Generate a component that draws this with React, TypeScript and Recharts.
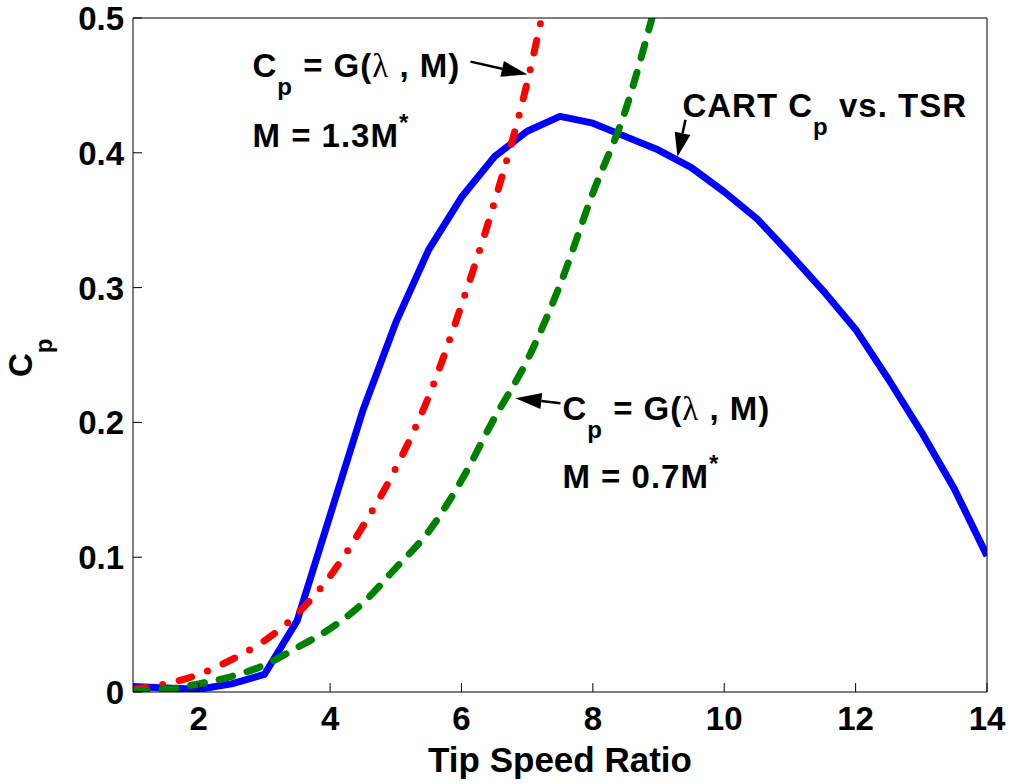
import React from 'react'
import { LineChart, Line, XAxis, YAxis, ReferenceDot, Label } from 'recharts'

// CART measured Cp vs tip speed ratio (piecewise linear)
const tsrCart = [1, 1.5, 2, 2.5, 3, 3.5, 4, 4.5, 5, 5.5, 6, 6.5, 7, 7.5, 8, 8.5, 9, 9.5, 10, 10.5, 11, 11.5, 12, 12.5, 13, 13.5, 14]
const cpCart = [0.004, 0.003, 0.002, 0.006, 0.013, 0.053, 0.131, 0.209, 0.274, 0.328, 0.367, 0.397, 0.416, 0.427, 0.422, 0.412, 0.402, 0.389, 0.371, 0.351, 0.325, 0.298, 0.269, 0.232, 0.193, 0.151, 0.101]

// G(lambda, M) with M = 1.3 M*
const tsrHigh = [1, 1.5, 2, 2.5, 3, 3.5, 4, 4.5, 5, 5.5, 6, 6.5, 7, 7.22]
const cpHigh = [0.002, 0.006, 0.013, 0.024, 0.038, 0.058, 0.086, 0.123, 0.166, 0.219, 0.287, 0.363, 0.452, 0.5]

// G(lambda, M) with M = 0.7 M*
const tsrLow = [1, 1.5, 2, 2.5, 3, 3.5, 4, 4.5, 5, 5.5, 6, 6.5, 7, 7.5, 8, 8.5, 8.9]
const cpLow = [0.001, 0.002, 0.006, 0.0115, 0.02, 0.033, 0.047, 0.066, 0.092, 0.119, 0.157, 0.203, 0.246, 0.302, 0.37, 0.432, 0.5]

const xTicks = [2, 4, 6, 8, 10, 12, 14]
const yTicks = [0, 0.1, 0.2, 0.3, 0.4, 0.5]

// where the annotation arrows point (tsr, cp)
const noteHigh = [7.005, 0.458]
const noteLow = [6.822, 0.218]
const noteCart = [9.288, 0.397]

const toRows = (xs: number[], ys: number[]) => xs.map((x, i) => ({ x, y: ys[i] }))
const cartData = toRows(tsrCart, cpCart)
const highData = toRows(tsrHigh, cpHigh)
const lowData = toRows(tsrLow, cpLow)

const FONT = '"Liberation Sans", Arial, Helvetica, sans-serif'
const textStyle: React.CSSProperties = { fontFamily: FONT, fontWeight: 'bold', fontSize: 33, whiteSpace: 'pre' }
const noteStyle: React.CSSProperties = { ...textStyle, letterSpacing: 1 }

function BottomTick({ x, y, payload }: any) {
    return (
        <g>
            <line x1={x} y1={y} x2={x} y2={y - 9} stroke="#000" strokeWidth={1} />
            <text x={x} y={y + 38} textAnchor="middle" style={textStyle} fill="#000">{payload.value}</text>
        </g>
    )
}

function LeftTick({ x, y, payload }: any) {
    return (
        <g>
            <line x1={x} y1={y} x2={x + 9} y2={y} stroke="#000" strokeWidth={1} />
            <text x={x - 9} y={y + 12} textAnchor="end" style={textStyle} fill="#000">{String(payload.value)}</text>
        </g>
    )
}

function TopTick({ x, y }: any) {
    return <line x1={x} y1={y} x2={x} y2={y + 9} stroke="#000" strokeWidth={1} />
}

function RightTick({ x, y }: any) {
    return <line x1={x} y1={y} x2={x - 9} y2={y} stroke="#000" strokeWidth={1} />
}

function Arrow({ x1, y1, x2, y2, head = 24, half = 8 }: any) {
    const len = Math.hypot(x2 - x1, y2 - y1)
    const ux = (x2 - x1) / len
    const uy = (y2 - y1) / len
    const bx = x2 - ux * head
    const by = y2 - uy * head
    return (
        <g>
            <line x1={x1} y1={y1} x2={bx} y2={by} stroke="#000" strokeWidth={2.5} />
            <polygon points={`${x2},${y2} ${bx - uy * half},${by + ux * half} ${bx + uy * half},${by - ux * half}`} fill="#000" />
        </g>
    )
}

function GText({ x, y }: any) {
    return (
        <text x={x} y={y} style={noteStyle} fill="#000">
            C<tspan fontSize={24} dy={18}>p</tspan>
            <tspan dy={-18}> = G(</tspan>
            <tspan style={{ fontFamily: '"Liberation Serif", serif', fontWeight: 'normal' }}>λ</tspan>
            <tspan> , M)</tspan>
        </text>
    )
}

function MText({ x, y, value }: any) {
    return (
        <text x={x} y={y} style={noteStyle} fill="#000">
            {`M = ${value}M`}<tspan fontSize={24} dy={-16}>*</tspan>
        </text>
    )
}

function HighNote({ cx, cy }: any) {
    return (
        <g>
            <Arrow x1={cx - 57} y1={cy - 13} x2={cx} y2={cy} head={26} half={8} />
            <GText x={cx - 275} y={cy + 2} />
            <MText x={cx - 275} y={cy + 72} value="1.3" />
        </g>
    )
}

function LowNote({ cx, cy }: any) {
    return (
        <g>
            <Arrow x1={cx + 45} y1={cy + 5} x2={cx} y2={cy} head={26} half={8} />
            <GText x={cx + 47} y={cy + 22} />
            <MText x={cx + 47} y={cy + 90} value="0.7" />
        </g>
    )
}

function CartNote({ cx, cy }: any) {
    return (
        <g>
            <Arrow x1={cx + 8} y1={cy - 37} x2={cx} y2={cy} head={24} half={8} />
            <text x={cx + 5} y={cy - 40} style={noteStyle} fill="#000">
                CART C<tspan fontSize={24} dy={18}>p</tspan>
                <tspan dy={-18}> vs. TSR</tspan>
            </text>
        </g>
    )
}

export default function App() {
    return (
        <div style={{ position: 'absolute', left: 0, top: 0, width: 1009, height: 784, background: '#fff' }}>
            <LineChart width={1009} height={784} margin={{ top: 17, right: 21, bottom: 91, left: 132 }}>
                <XAxis
                    dataKey="x"
                    type="number"
                    domain={[1, 14]}
                    ticks={xTicks}
                    allowDataOverflow
                    height={1}
                    tickSize={0}
                    tickMargin={0}
                    tickLine={false}
                    tick={<BottomTick />}
                    axisLine={{ stroke: '#000', strokeWidth: 1 }}
                >
                    <Label
                        content={({ viewBox }: any) => (
                            <text x={viewBox.x + viewBox.width / 2} y={viewBox.y + 80} textAnchor="middle" style={{ ...textStyle, fontSize: 35 }} fill="#000">
                                Tip Speed Ratio
                            </text>
                        )}
                    />
                </XAxis>
                <XAxis
                    xAxisId="top"
                    orientation="top"
                    dataKey="x"
                    type="number"
                    domain={[1, 14]}
                    ticks={xTicks}
                    height={1}
                    tickSize={0}
                    tickMargin={0}
                    tickLine={false}
                    tick={<TopTick />}
                    axisLine={{ stroke: '#000', strokeWidth: 1 }}
                />
                <YAxis
                    type="number"
                    domain={[0, 0.5]}
                    ticks={yTicks}
                    allowDataOverflow
                    width={1}
                    tickSize={0}
                    tickMargin={0}
                    tickLine={false}
                    tick={<LeftTick />}
                    axisLine={{ stroke: '#000', strokeWidth: 1 }}
                >
                    <Label
                        content={({ viewBox }: any) => (
                            <text
                                transform="rotate(-90)"
                                x={-(viewBox.y + viewBox.height / 2 + 22)}
                                y={viewBox.x - 100}
                                style={textStyle}
                                fill="#000"
                            >
                                C<tspan fontSize={24} dy={20}>p</tspan>
                            </text>
                        )}
                    />
                </YAxis>
                <YAxis
                    yAxisId="right"
                    orientation="right"
                    type="number"
                    domain={[0, 0.5]}
                    ticks={yTicks}
                    width={1}
                    tickSize={0}
                    tickMargin={0}
                    tickLine={false}
                    tick={<RightTick />}
                    axisLine={{ stroke: '#000', strokeWidth: 1 }}
                />
                <Line
                    data={cartData}
                    dataKey="y"
                    type="linear"
                    stroke="#0000ff"
                    strokeWidth={7}
                    strokeLinejoin="round"
                    dot={false}
                    activeDot={false}
                    isAnimationActive={false}
                />
                <Line
                    data={highData}
                    dataKey="y"
                    type="monotone"
                    stroke="#ff0000"
                    strokeWidth={7}
                    strokeDasharray="13 17 0 17"
                    strokeLinecap="round"
                    dot={false}
                    activeDot={false}
                    isAnimationActive={false}
                />
                <Line
                    data={lowData}
                    dataKey="y"
                    type="monotone"
                    stroke="#008000"
                    strokeWidth={7}
                    strokeDasharray="14 15"
                    strokeLinecap="round"
                    dot={false}
                    activeDot={false}
                    isAnimationActive={false}
                />
                <ReferenceDot x={noteHigh[0]} y={noteHigh[1]} r={1} ifOverflow="visible" shape={(p: any) => <HighNote cx={p.cx} cy={p.cy} />} />
                <ReferenceDot x={noteLow[0]} y={noteLow[1]} r={1} ifOverflow="visible" shape={(p: any) => <LowNote cx={p.cx} cy={p.cy} />} />
                <ReferenceDot x={noteCart[0]} y={noteCart[1]} r={1} ifOverflow="visible" shape={(p: any) => <CartNote cx={p.cx} cy={p.cy} />} />
            </LineChart>
        </div>
    )
}
